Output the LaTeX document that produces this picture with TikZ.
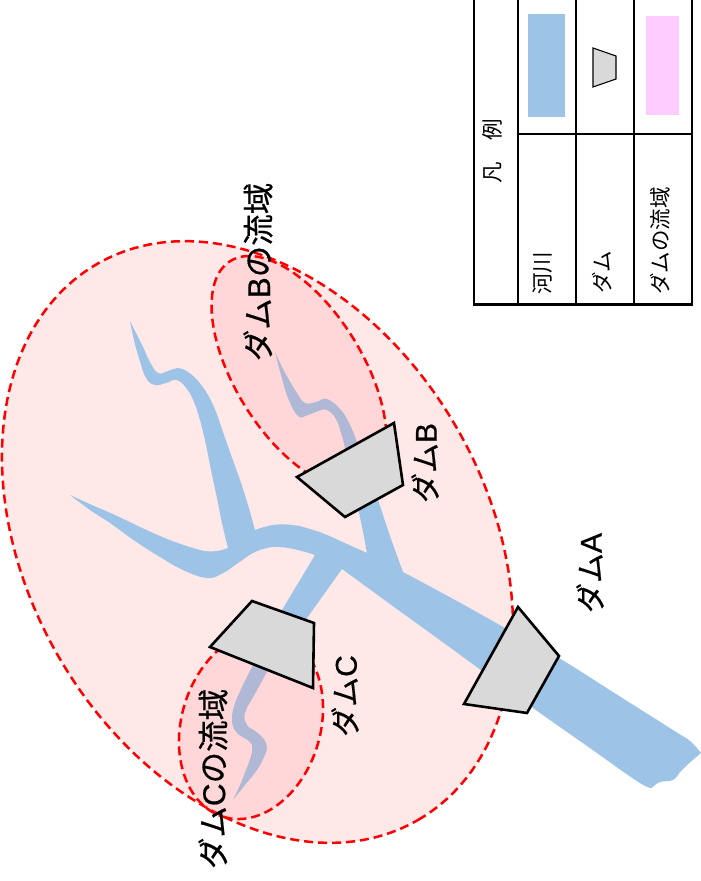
\documentclass[tikz,border=0pt]{standalone}
\usepackage{fontspec}
\setmainfont{Noto Sans CJK JP}
\newfontfamily\lat{Liberation Sans}
\newfontfamily\boldjp[FakeBold=0.5]{Noto Sans CJK JP}
\newfontfamily\boldlat[FakeBold=0.5]{Liberation Sans}
\definecolor{river}{HTML}{9DC3E6}
\definecolor{basin}{HTML}{FFE8E8}
\definecolor{subbasin}{HTML}{FF8F96}
\definecolor{damgray}{HTML}{D9D9D9}
\definecolor{legendpink}{HTML}{FFCCFF}
\tikzset{
  redash/.style={draw=red,line width=2.5pt,dash pattern=on 9pt off 5pt},
  damshape/.style={draw=black,fill=damgray,line width=2.6pt,line join=miter},
  tablerule/.style={draw=black,line width=2.1pt},
  biglabel/.style={rotate=90,inner sep=0pt,font=\boldjp\fontsize{30}{32}\selectfont},
  basinlabel/.style={rotate=90,inner sep=0pt,font=\boldjp\fontsize{31.5}{33}\selectfont},
  smalllabel/.style={rotate=90,inner sep=0pt,font=\fontsize{21.5}{23}\selectfont},
  curve/.style={smooth,tension=0.7},
}
\begin{document}
\begin{tikzpicture}[x=1pt,y=-1pt]
\useasboundingbox (0,0) rectangle (701,881);
% big basin
\path[fill=basin,redash,shift={(257.5,542)},rotate=-60] (0,0) ellipse (321pt and 229.6pt);
% river
\fill[river]
  plot[curve] coordinates {(403,572) (390,536) (378,500) (367,470) (357,442) (350,425) (341,410) (327,399) (316,402) (305,403) (297,393) (288,378) (281,365) (275,352)}
  -- plot[curve] coordinates {(275,352) (281,375) (288,398) (298,416) (308,415) (318,411) (327,410) (336,419) (341,433) (345,448) (352,483) (360,517) (367,553)}
  -- plot[curve] coordinates {(367,553) (347,544) (327,535) (310,529) (293,525) (273,525) (255,530)}
  -- plot[curve] coordinates {(255,530) (248,505) (240,480) (231,455) (223,432) (216,412) (208,395) (198,381) (188,372) (178,368) (168,371) (158,373) (150,362) (143,347) (136,333) (130,321)}
  -- plot[curve] coordinates {(130,321) (134,340) (139,358) (146,378) (155,385) (166,383) (177,380) (187,389) (194,402) (200,420) (206,445) (211,470) (217,498) (222,523) (228,548)}
  -- plot[curve] coordinates {(228,548) (217,551) (205,551) (193,548) (175,542) (160,536) (138,526) (115,515) (92,505) (70,495)}
  -- plot[curve] coordinates {(70,495) (90,510) (110,523) (135,541) (160,557) (183,570) (207,578) (223,573) (238,563) (253,553) (267,548) (280,547) (298,550) (315,555)}
  -- (282,610) -- (252,667)
  -- plot[curve] coordinates {(252,667) (243,685) (235,703) (232,716) (232,723) (237,733) (246,739) (252,745) (251,756) (246,770) (240,785) (233,800)}
  -- plot[curve] coordinates {(233,800) (245,785) (257,770) (264,757) (267,747) (263,738) (255,731) (247,725) (245,713) (256,692) (268,670)}
  -- (307,618) -- (327,590) -- (342,569)
  -- plot[curve] coordinates {(342,569) (390,604) (437,638) (485,673) (533,708) (587,746) (640,783) (653,787)}
  -- plot[curve] coordinates {(653,787) (660,782) (673,780) (680,772) (687,765) (701,753)}
  -- plot[curve] coordinates {(701,753) (690,741) (673,730) (616,694) (559,658) (507,629) (455,600) (403,572)}
  -- cycle;
% sub-basins
\path[fill=subbasin,fill opacity=0.19,redash,shift={(299,372)},rotate=-58.3] (0,0) ellipse (130.5pt and 63.8pt);
\path[fill=subbasin,fill opacity=0.19,redash,shift={(251,725)},rotate=-106.6] (0,0) ellipse (95.9pt and 69.5pt);
% dams
\path[damshape] (518,607) -- (559,656) -- (527,713) -- (464,704) -- cycle;
\path[damshape] (394,423) -- (403,485) -- (345,517) -- (297,477) -- cycle;
\path[damshape] (252,601) -- (314,623) -- (313,688) -- (210,647) -- cycle;
% labels
\node[biglabel] (labA) at (590,573) {ダム{\boldlat A}};
\node[biglabel] (labB) at (425,463) {ダム{\boldlat B}};
\node[biglabel] (labC) at (345,696) {ダム{\boldlat C}};
\node[basinlabel] (basinB) at (258,272) {ダム{\boldlat B}の流域};
\node[basinlabel] (basinC) at (213,779) {ダム{\boldlat C}の流域};
% legend
\draw[tablerule] (474,0) -- (474,304.5) -- (692,304.5) -- (692,0);
\draw[tablerule] (518,0) -- (518,304.5);
\draw[tablerule] (576,0) -- (576,304.5);
\draw[tablerule] (634,0) -- (634,304.5);
\draw[tablerule] (518,134) -- (692,134);
\fill[river] (528,14) rectangle (565,117);
\path[draw=black,fill=damgray,line width=1.1pt] (593,48) -- (616,56) -- (616,79) -- (593,87) -- cycle;
\fill[legendpink] (646,16) rectangle (679,115);
\node[smalllabel] (legtitle) at (492,151) {凡　例};
\node[smalllabel] (legriver) at (543,273) {河川};
\node[smalllabel] (legdam) at (602,272) {ダム};
\node[smalllabel] (legbasin) at (660,241) {ダムの流域};
\end{tikzpicture}
\end{document}
